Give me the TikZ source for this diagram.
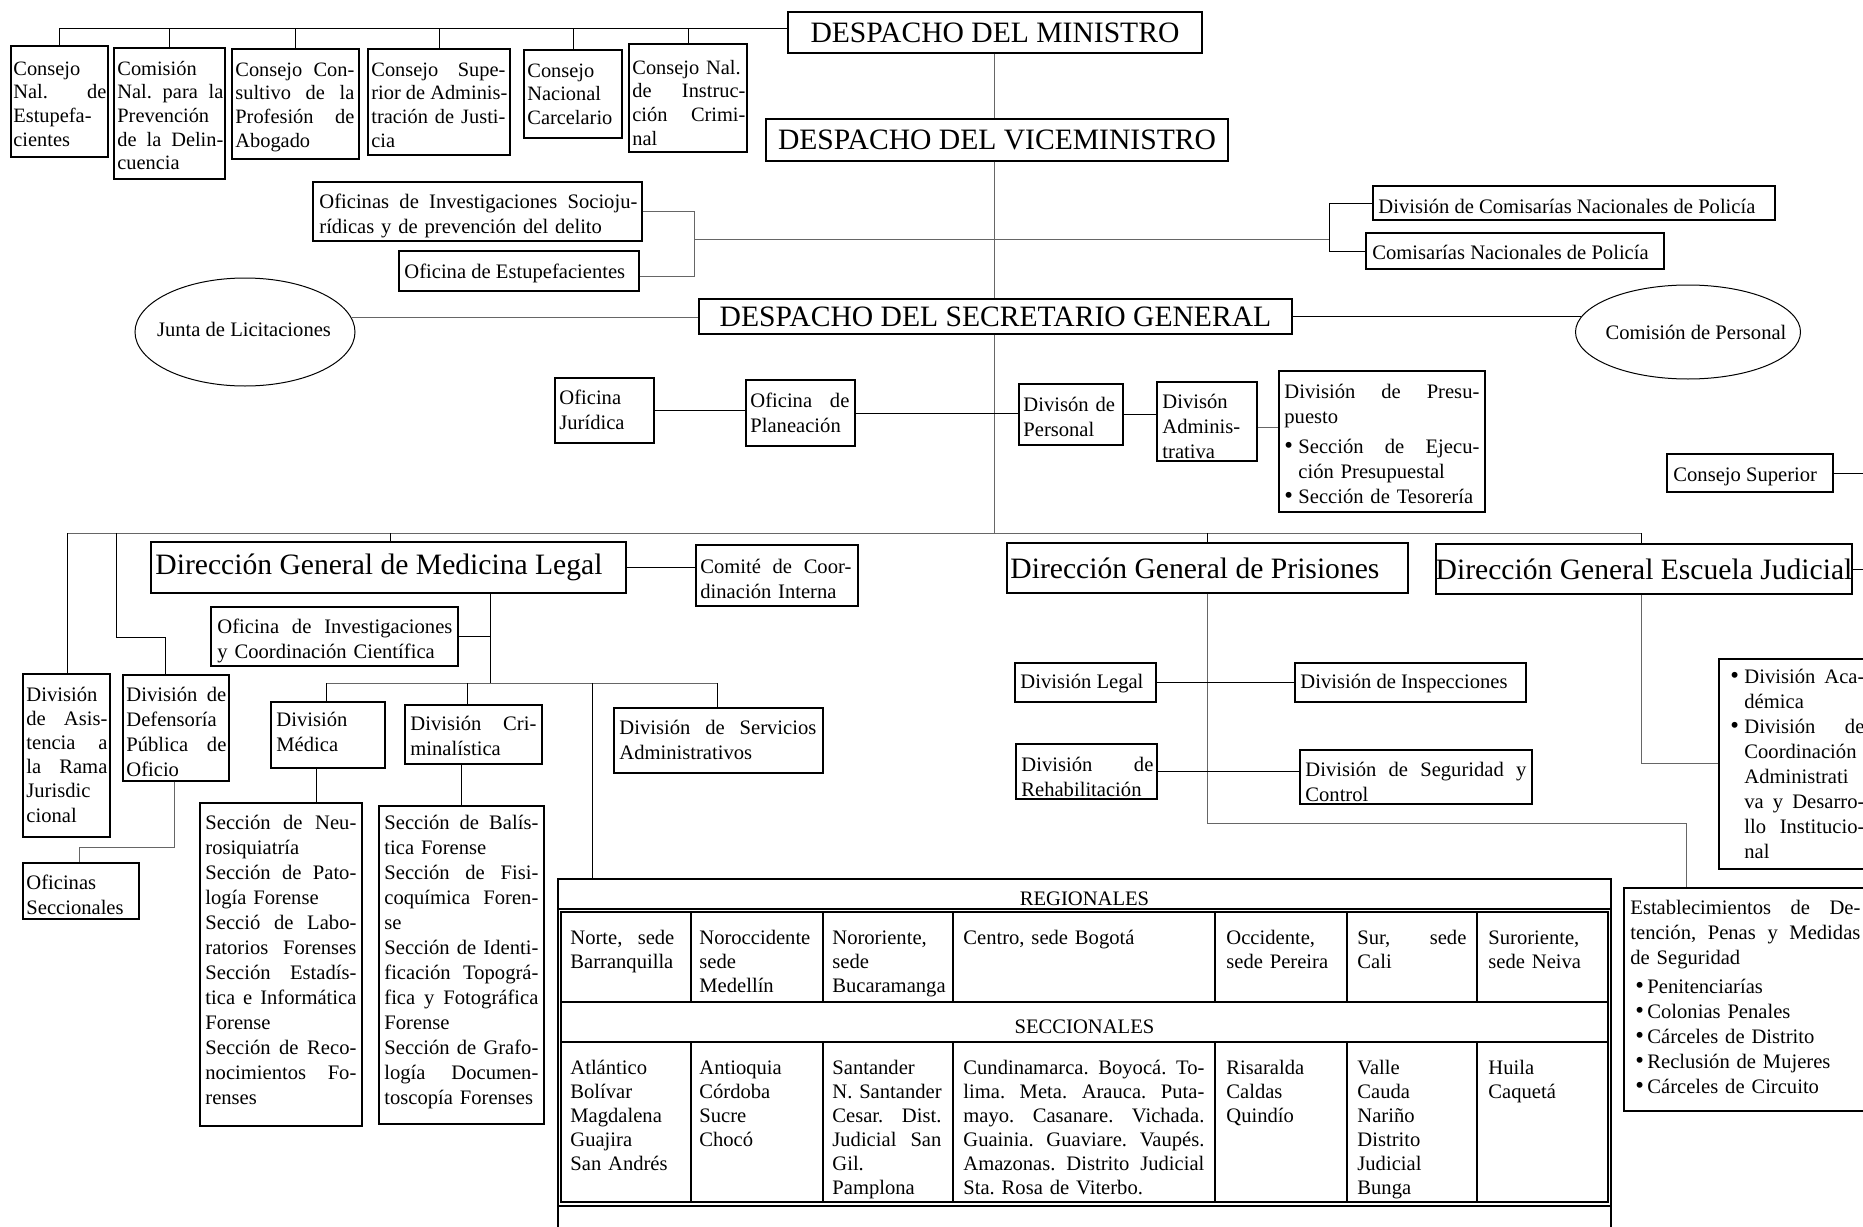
\documentclass[tikz,border=0pt]{standalone}
\usepackage{fontspec}
\usepackage{graphicx}
\setmainfont{Liberation Serif}
\usetikzlibrary{fit,shapes.geometric}
\frenchspacing
\newlength\jw
\newcommand\sz{\fontsize{10.3pt}{12.5pt}\selectfont\frenchspacing}
\newcommand\szt{\fontsize{10.2pt}{11.85pt}\selectfont\frenchspacing}
\newcommand\tsz{\fontsize{10.3pt}{12pt}\selectfont\frenchspacing}
\newcommand\ttlf{\fontsize{14.8pt}{17pt}\selectfont}
\newcommand\jl[1]{\makebox[\jw][s]{\spaceskip=0.25em plus 1fil\relax #1}}
\newcommand\bgl{\raisebox{-0.2pt}{\scalebox{1.2}{\textbullet}}}
\newcommand\bu{\makebox[7pt][l]{\bgl}}
\newcommand\bjl[1]{\bu\makebox[\dimexpr\jw-7pt\relax][s]{\spaceskip=0.25em plus 1fil\relax #1}}
\newcommand\hjl[1]{\hspace*{7pt}\makebox[\dimexpr\jw-7pt\relax][s]{\spaceskip=0.25em plus 1fil\relax #1}}
\newcommand\hng{\hspace*{7pt}}
\newcommand\ebu{\hspace*{2.5pt}\makebox[6pt][l]{\bgl}}
\newcommand\bx[5]{\node[boxs, fit={(#2,#3) (#4,#5)}] (#1) {};}
\tikzset{
  boxs/.style={draw, line width=0.65pt, inner sep=0pt},
  txt/.style={inner sep=0pt, align=left, font=\sz, anchor=base west},
  ttop/.style={inner sep=0pt, align=left, font=\szt, anchor=base west},
  ttxt/.style={inner sep=0pt, align=left, font=\tsz, anchor=base west},
  tw/.style={text width=#1, execute at begin node={\setlength{\jw}{#1}}},
  ttl/.style={inner sep=0pt, font=\ttlf},
  con/.style={line width=0.5pt},
  cong/.style={line width=0.5pt, draw=black!60},
  ell/.style={draw, ellipse, inner sep=0pt, line width=0.5pt},
}
\begin{document}
\begin{tikzpicture}[x=0.5pt,y=-0.5pt]
\useasboundingbox (0,0) rectangle (1863,1226);
\clip (0,0) rectangle (1863,1226);
\fill[white] (0,0) rectangle (1863,1226);

% ---------- boxes ----------
\bx{c1}{11}{46}{108}{157}
\bx{c2}{114}{48}{225}{179}
\bx{c3}{232}{49}{359}{159}
\bx{c4}{368}{49}{510}{155}
\bx{c5}{524}{50}{622}{138}
\bx{c6}{629}{44}{747}{152}
\bx{min}{788}{12}{1202}{53}
\bx{vice}{766}{119}{1228}{161}
\bx{socio}{313}{182}{642}{241}
\bx{estup}{399}{251}{639}{291}
\bx{divcom}{1373}{186}{1775}{220}
\bx{comnac}{1366}{233}{1664}{269}
\bx{sec}{699}{299}{1292}{334}
\bx{juri}{555}{378}{654}{443}
\bx{plan}{746}{380}{855}{446}
\bx{pers}{1019}{384}{1123}{445}
\bx{adm}{1157}{382}{1257}{461}
\bx{presu}{1279}{371}{1485}{512}
\bx{csup}{1667}{454}{1833}{492}
\bx{medleg}{151}{542}{626}{593}
\bx{comite}{696}{545}{858}{606}
\bx{ofinv}{211}{607}{458}{666}
\bx{asis}{23}{674}{110}{837}
\bx{defen}{123}{675}{229}{781}
\bx{ofsec}{23}{863}{139}{919}
\bx{medica}{271}{702}{385}{768}
\bx{crim}{405}{705}{542}{764}
\bx{serv}{614}{708}{823}{773}
\bx{secmed}{200}{803}{362}{1126}
\bx{seccrim}{379}{806}{544}{1124}
\bx{pris}{1007}{543}{1408}{593}
\bx{escu}{1436}{544}{1852}{594}
\bx{legal}{1015}{663}{1156}{702}
\bx{insp}{1295}{663}{1526}{702}
\bx{rehab}{1016}{744}{1157}{799}
\bx{segur}{1300}{750}{1532}{804}
\bx{acad}{1719}{659}{1880}{869}
\bx{estab}{1624}{888}{1880}{1111}
\node[ell, minimum width=110pt, minimum height=54pt] (junta) at (245,332) {};
\node[ell, minimum width=112.5pt, minimum height=47pt] (comper) at (1688,332) {};

% ---------- titles ----------
\node[ttl] (min-t) at (min.center) {DESPACHO DEL MINISTRO};
\node[ttl] (vice-t) at (vice.center) {DESPACHO DEL VICEMINISTRO};
\node[ttl] (sec-t) at (sec.center) {DESPACHO DEL SECRETARIO GENERAL};
\node[ttl, anchor=west] (medleg-t) at (155,567.5) {Dirección General de Medicina Legal};
\node[ttl, anchor=west] (pris-t) at (1010,568) {Dirección General de Prisiones};
\node[ttl] (escu-t) at (escu.center) {Dirección General Escuela Judicial};

% ---------- texts ----------
\node[ttop, tw=46.5pt] (c1-t) at (13,75) {Consejo\\ \jl{Nal. de}\\ Estupefa-\\ cientes};
\node[ttop, tw=53pt] (c2-t) at (117,75) {Comisión\\ \jl{Nal. para la}\\ Prevención\\ \jl{de la Delin-}\\ cuencia};
\node[ttop, tw=59.5pt] (c3-t) at (235,76) {\jl{Consejo Con-}\\ \jl{sultivo de la}\\ \jl{Profesión de}\\ Abogado};
\node[ttop, tw=67pt] (c4-t) at (371,76) {\jl{Consejo Supe-}\\ \jl{rior de Adminis-}\\ \jl{tración de Justi-}\\ cia};
\node[ttop, tw=46.5pt] (c5-t) at (527,77) {Consejo\\ Nacional\\ Carcelario};
\node[ttop, tw=56.5pt] (c6-t) at (632,74) {Consejo Nal.\\ \jl{de Instruc-}\\ \jl{ción Crimi-}\\ nal};
\node[txt, tw=159pt] (socio-t) at (319,208) {\jl{Oficinas de Investigaciones Socioju-}\\ rídicas y de prevención del delito};
\node[txt] (estup-t) at (404,278) {Oficina de Estupefacientes};
\node[txt] (divcom-t) at (1378,213) {División de Comisarías Nacionales de Policía};
\node[txt] (comnac-t) at (1372,259) {Comisarías Nacionales de Policía};
\node[font=\sz, inner sep=0pt] (junta-t) at (244,329) {Junta de Licitaciones};
\node[font=\sz, inner sep=0pt] (comper-t) at (1696,332) {Comisión de Personal};
\node[txt, tw=45pt] (juri-t) at (559,404) {Oficina\\ Jurídica};
\node[txt, tw=49.5pt] (plan-t) at (750,407) {\jl{Oficina de}\\ Planeación};
\node[txt, tw=48pt] (pers-t) at (1023,411) {Divisón de\\ Personal};
\node[txt, tw=45pt] (adm-t) at (1162,408) {Divisón\\ Adminis-\\ trativa};
\node[txt, tw=97.5pt] (presu-t) at (1284,398) {\jl{División de Presu-}\\ puesto\\[2.5pt] \bjl{Sección de Ejecu-}\\ \hng ción Presupuestal\\ \bu Sección de Tesorería};
\node[txt] (csup-t) at (1673,481) {Consejo Superior};
\node[txt, tw=75.5pt] (comite-t) at (700,573) {\jl{Comité de Coor-}\\ dinación Interna};
\node[txt, tw=117.5pt] (ofinv-t) at (217,633) {\jl{Oficina de Investigaciones}\\ y Coordinación Científica};
\node[txt, tw=40.5pt, font=\fontsize{10.3pt}{12.1pt}\selectfont] (asis-t) at (26,701) {División\\ \jl{de Asis-}\\ \jl{tencia a}\\ \jl{la Rama}\\ Jurisdic\\ cional};
\node[txt, tw=50pt] (defen-t) at (126,701) {\jl{División de}\\ Defensoría\\ \jl{Pública de}\\ Oficio};
\node[txt, tw=55pt] (ofsec-t) at (26,889) {Oficinas\\ Seccionales};
\node[txt, tw=52pt] (medica-t) at (276,726) {División\\ Médica};
\node[txt, tw=63pt] (crim-t) at (410,730) {\jl{División Cri-}\\ minalística};
\node[txt, tw=98.5pt] (serv-t) at (619,734) {\jl{División de Servicios}\\ Administrativos};
\node[txt, tw=75.5pt] (secmed-t) at (205,829) {\jl{Sección de Neu-}\\ rosiquiatría\\ \jl{Sección de Pato-}\\ logía Forense\\ \jl{Secció de Labo-}\\ \jl{ratorios Forenses}\\ \jl{Sección Estadís-}\\ \jl{tica e Informática}\\ Forense\\ \jl{Sección de Reco-}\\ \jl{nocimientos Fo-}\\ renses};
\node[txt, tw=77pt] (seccrim-t) at (384,829) {\jl{Sección de Balís-}\\ tica Forense\\ \jl{Sección de Fisi-}\\ \jl{coquímica Foren-}\\ se\\ \jl{Sección de Identi-}\\ \jl{ficación Topográ-}\\ \jl{fica y Fotográfica}\\ Forense\\ \jl{Sección de Grafo-}\\ \jl{logía Documen-}\\ toscopía Forenses};
\node[txt] (legal-t) at (1020,688) {División Legal};
\node[txt] (insp-t) at (1300,688) {División de Inspecciones};
\node[txt, tw=66pt] (rehab-t) at (1021,771) {\jl{División de}\\ Rehabilitación};
\node[txt, tw=110.5pt] (segur-t) at (1305,776) {\jl{División de Seguridad y}\\ Control};
\node[txt, tw=67pt] (acad-t) at (1730,683) {\bjl{División Aca-}\\ \hng démica\\ \bjl{División de}\\ \hng Coordinación\\ \hng Administrati\\ \hjl{va y Desarro-}\\ \hjl{llo Institucio-}\\ \hng nal};
\node[txt, tw=115pt] (estab-t) at (1630,914) {\jl{Establecimientos de De-}\\ \jl{tención, Penas y Medidas}\\ de Seguridad\\[2pt] \ebu Penitenciarías\\ \ebu Colonias Penales\\ \ebu Cárceles de Distrito\\ \ebu Reclusión de Mujeres\\ \ebu Cárceles de Circuito};

% ---------- table ----------
\node[boxs, fit={(558,879) (1611,1260)}] (tbl) {};
\node[boxs, fit={(561,912) (1608,1202)}] (itbl) {};
\draw[line width=0.65pt] (558,909) -- (1611,909);
\draw[line width=0.65pt] (558,1206) -- (1611,1206);
\draw[line width=0.65pt] (561,1002) -- (1608,1002);
\draw[line width=0.65pt] (561,1042) -- (1608,1042);
\foreach \cx in {691,823,953,1215,1347,1477}{
  \draw[line width=0.65pt] (\cx,912) -- (\cx,1002);
  \draw[line width=0.65pt] (\cx,1042) -- (\cx,1202);
}
\node[font=\tsz, inner sep=0pt, anchor=base] (reg-t) at (1084.5,905) {REGIONALES};
\node[font=\tsz, inner sep=0pt, anchor=base] (secc-t) at (1084.5,1033) {SECCIONALES};
\node[ttxt, tw=52pt] (r1c1) at (570,944) {\jl{Norte, sede}\\ Barranquilla};
\node[ttxt, tw=58pt] (r1c2) at (699,944) {Noroccidente\\ sede\\ Medellín};
\node[ttxt, tw=58pt] (r1c3) at (832,944) {Nororiente,\\ sede\\ Bucaramanga};
\node[ttxt, tw=120.5pt] (r1c4) at (963,944) {Centro, sede Bogotá};
\node[ttxt, tw=55pt] (r1c5) at (1226,944) {Occidente,\\ sede Pereira};
\node[ttxt, tw=54.5pt] (r1c6) at (1357,944) {\jl{Sur, sede}\\ Cali};
\node[ttxt, tw=55pt] (r1c7) at (1488,944) {Suroriente,\\ sede Neiva};
\node[ttxt, tw=55pt] (r3c1) at (570,1074) {Atlántico\\ Bolívar\\ Magdalena\\ Guajira\\ San Andrés};
\node[ttxt, tw=55pt] (r3c2) at (699,1074) {Antioquia\\ Córdoba\\ Sucre\\ Chocó};
\node[ttxt, tw=54.5pt] (r3c3) at (832,1074) {Santander\\ \mbox{N. Santander}\\ \jl{Cesar. Dist.}\\ \jl{Judicial San}\\ Gil.\\ Pamplona};
\node[ttxt, tw=120.5pt] (r3c4) at (963,1074) {\jl{Cundinamarca. Boyocá. To-}\\ \jl{lima. Meta. Arauca. Puta-}\\ \jl{mayo. Casanare. Vichada.}\\ \jl{Guainia. Guaviare. Vaupés.}\\ \jl{Amazonas. Distrito Judicial}\\ Sta. Rosa de Viterbo.};
\node[ttxt, tw=52.5pt] (r3c5) at (1226,1074) {Risaralda\\ Caldas\\ Quindío};
\node[ttxt, tw=54.5pt] (r3c6) at (1357,1074) {Valle\\ Cauda\\ Nariño\\ Distrito\\ Judicial\\ Bunga};
\node[ttxt, tw=55pt] (r3c7) at (1488,1074) {Huila\\ Caquetá};

% ---------- connectors ----------
\coordinate (tb) at (0,28);
\coordinate (redge) at (1863,0);
\draw[con] (c1.north) -- (c1.north |- tb) -- (tb -| min.west);
\foreach \n in {c2,c3,c4,c5,c6} \draw[con] (\n.north) -- (\n.north |- tb);

\coordinate (trk) at (994,0);
\coordinate (bar) at (0,533);
\draw[cong] (min.south -| trk) -- (vice.north -| trk);
\draw[cong] (vice.south -| trk) -- (sec.north -| trk);
\draw[cong] (sec.south -| trk) -- (bar -| trk);

\coordinate (obx) at (694,239);
\coordinate (obr) at (1329,239);
\coordinate (estE) at ([yshift=-2.5pt]estup.east);
\draw[cong] (socio.east) -- (socio.east -| obx) -- (obx |- estE) -- (estE);
\draw[cong] (obx) -- (obr);
\draw[con] (divcom.west) -| (obr) |- (comnac.west);

\draw[cong] (junta.8) -- (junta.8 -| sec.west);
\draw[con] (comper.172) -- (comper.172 -| sec.east);

\draw[con] (juri.east) -- (juri.east -| plan.west);
\draw[con] (plan.east) -- (plan.east -| pers.west);
\draw[con] (pers.east) -- (pers.east -| adm.west);
\coordinate (admE) at ([yshift=-2.75pt]adm.east);
\draw[cong] (admE) -- (admE -| presu.west);
\draw[con] (csup.east) -- (csup.east -| redge);

\coordinate (barL) at (67,533);
\coordinate (barR) at (1641,533);
\draw[cong] (barL) -- (barR);
\draw[con] (barL) -- (barL |- asis.north);
\coordinate (dfA) at (116,533);
\coordinate (dfB) at (116,637);
\coordinate (dfC) at (165,637);
\draw[con] (dfA) -- (dfB) -- (dfC) -- (dfC |- defen.north);
\coordinate (ml) at (390,533);
\draw[con] (ml) -- (ml |- medleg.north);
\draw[con] (pris.north) -- (pris.north |- bar);
\draw[con] (barR) -- (barR |- escu.north);

\draw[con] (medleg.east) -- (medleg.east -| comite.west);
\coordinate (mlb) at (490,683);
\draw[con] (mlb |- medleg.south) -- (mlb);
\draw[con] (ofinv.east) -- (ofinv.east -| mlb);
\coordinate (sbL) at (326,683);
\coordinate (sbC) at (467,683);
\coordinate (sbT) at (592,683);
\coordinate (sbR) at (717,683);
\draw[cong] (sbL) -- (sbR);
\draw[con] (sbL) -- (sbL |- medica.north);
\draw[con] (sbC) -- (sbC |- crim.north);
\draw[con] (sbT) -- (sbT |- tbl.north);
\draw[con] (sbR) -- (sbR |- serv.north);
\coordinate (mx) at (316,0);
\draw[con] (mx |- medica.south) -- (mx |- secmed.north);
\draw[con] (seccrim.north) -- (seccrim.north |- crim.south);

\coordinate (d1) at (174,847);
\coordinate (d2) at (79,847);
\draw[cong] (d1 |- defen.south) -- (d1) -- (d2) -- (d2 |- ofsec.north);

\coordinate (p1) at (1208,823);
\coordinate (p2) at (1686,823);
\draw[cong] (pris.south) -- (pris.south |- p1) -- (p2) -- (p2 |- estab.north);
\draw[con] (legal.east) -- (insp.west);
\draw[con] (rehab.east) -- (rehab.east -| segur.west);

\coordinate (e1) at (1641,763);
\draw[cong] (e1 |- escu.south) -- (e1) -- (e1 -| acad.west);
\draw[con] (escu.east) -- (escu.east -| redge);
\end{tikzpicture}
\end{document}
